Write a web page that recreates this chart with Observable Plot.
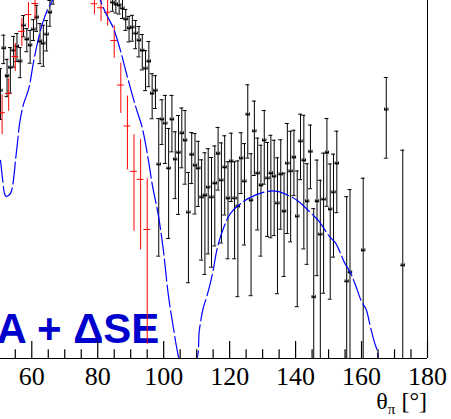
<!DOCTYPE html>
<html>
<head>
<meta charset="utf-8">
<script src="https://cdn.jsdelivr.net/npm/d3@7"></script>
<script src="https://cdn.jsdelivr.net/npm/@observablehq/plot@0.6"></script>
<style>
  html, body { margin: 0; padding: 0; background: #fff; }
  svg { display: block; }
</style>
</head>
<body>
<div id="chart"></div>
<script>
// Pion angular distribution (log scale), 1° bins, with model curve
const blackTheta = [50.5,51.5,52.5,53.5,54.5,55.5,56.5,57.5,58.5,59.5,60.5,61.5,62.5,63.5,64.5,65.5,66.5,
  84.5,85.5,86.5,87.5,88.5,89.5,90.5,91.5,92.5,93.5,94.5,95.5,96.5,97.5,98.5,99.5,100.5,101.5,102.5,103.5,
  104.5,105.5,106.5,107.5,108.5,109.5,110.5,111.5,112.5,113.5,114.5,115.5,116.5,117.5,118.5,119.5,120.5,
  121.5,122.5,123.5,124.5,125.5,126.5,127.5,128.5,129.5,130.5,131.5,132.5,133.5,134.5,135.5,136.5,137.5,
  138.5,139.5,140.5,141.5,142.5,143.5,144.5,145.5,146.5,147.5,148.5,149.5,150.5,151.5,152.5,
  155.5,156.5,160.5,167.5,172.5];
const blackValue = [1.65,2.57,1.92,2.10,2.51,2.62,2.24,3.26,2.82,2.65,3.13,3.55,2.76,2.70,2.97,3.74,4.71,
  4.15,4.07,4.03,3.90,3.48,3.17,3.20,3.00,2.79,2.51,2.08,2.24,1.60,1.65,0.762,1.22,1.17,0.731,1.22,0.803,
  0.862,1.056,0.98,0.461,0.844,0.754,0.731,0.540,0.551,0.599,0.540,0.625,0.853,0.645,0.739,0.534,0.787,
  0.534,0.491,0.812,0.638,1.285,0.523,1.079,0.694,0.612,0.98,0.659,0.694,0.672,0.507,0.687,0.466,0.770,
  0.709,0.820,0.442,0.970,0.795,0.518,0.871,0.190,0.518,0.366,0.528,0.862,0.476,0.569,0.770,
  0.224,0.246,0.310,1.354,0.265];
const blackError = [0.43,0.38,0.37,0.49,0.40,0.38,0.35,0.36,0.34,0.45,0.34,0.48,0.57,0.57,0.47,0.50,0.63,
  0.36,0.35,0.35,0.39,0.38,0.42,0.43,0.44,0.44,0.46,0.43,0.52,0.37,0.28,0.47,0.28,0.40,0.38,0.35,0.27,
  0.41,0.32,0.36,0.24,0.22,0.30,0.24,0.26,0.31,0.30,0.28,0.30,0.27,0.31,0.29,0.25,0.27,
  0.25,0.30,0.25,0.31,0.47,0.33,0.40,0.31,0.32,0.36,0.30,0.34,0.31,0.31,0.30,0.23,0.40,
  0.37,0.27,0.27,0.32,0.48,0.25,0.28,0.29,0.28,0.28,0.33,0.37,0.29,0.28,0.31,
  0.32,0.34,0.35,0.54,0.62];

// Second data set, 2° bins
const redTheta = [51,53,55,57,59,61,79,81,83,85,87,89,91,93,95];
const redValue = [1.31,1.60,2.36,3.07,3.66,4.11,4.10,3.93,3.75,2.79,1.75,1.14,0.709,0.652,0.386];
const redError = [0.27,0.27,0.34,0.45,0.49,0.65,0.45,0.53,0.50,0.47,0.45,0.42,0.33,0.34,0.27];

// Model: A + ΔSE
const curveTheta = [50.52,51.12,51.73,52.18,52.94,53.55,54.06,54.61,55.06,55.67,56.36,57.48,59.09,60.61,
  62.64,64.67,66.27,70,74,78,80.82,82.64,84.76,86.88,89.0,91.42,93.55,95.37,96.58,98.39,99.91,101.42,
  102.94,104.15,104.76,106,108,109.9,110.8,112.0,113.2,114.8,116.3,118.1,120.2,122.6,126.3,131.4,134.5,
  138.4,140.5,142.3,145.4,146.9,150.5,152.0,155.0,156.6,158.1,159.9,161.4,162.6,163.8,164.8,165.2,168,
  172,176,180];
const curveValue = [0.795,0.658,0.563,0.546,0.551,0.563,0.593,0.680,0.795,0.960,1.185,1.43,1.685,2.26,
  3.10,3.82,4.24,5.6,6.2,5.3,4.24,3.66,3.17,2.51,1.90,1.41,1.11,0.795,0.612,0.447,0.310,0.194,
  0.138,0.108,0.100,0.06,0.04,0.100,0.134,0.170,0.194,0.243,0.320,0.390,0.456,0.496,0.540,0.575,0.575,
  0.546,0.523,0.496,0.447,0.424,0.355,0.337,0.270,0.246,0.217,0.183,0.167,0.141,0.120,0.108,0.100,0.05,
  0.02,0.02,0.03];

const majorTicks = [60, 80, 100, 120, 140, 160, 180];
const minorTicks = [55, 65, 70, 75, 85, 90, 95, 105, 110, 115, 125, 130, 135, 145, 150, 155, 165, 170, 175];
const modelLabel = "A + \u0394SE";

const yMin = 0.1, yMax = 4.24;
const xMin = 50.515, xMax = 180;

const black = blackTheta.map((t, i) => ({t, v: blackValue[i], e: blackError[i]}));
const red = redTheta.map((t, i) => ({t, v: redValue[i], e: redError[i]}));
const model = curveTheta.map((t, i) => ({t, v: curveValue[i]}));

const low = d => Math.max(d.v - d.e, 1e-4);
const high = d => d.v + d.e;
const markerTick = 1.016; // half-height of the bin-width end marks, as a factor on the log axis
const serif = "Liberation Serif, Times New Roman, serif";

const svg = Plot.plot({
  width: 451,
  height: 419,
  marginLeft: 0,
  marginRight: 24,
  marginTop: 0,
  marginBottom: 61,
  x: {domain: [xMin, xMax], axis: null},
  y: {type: "log", domain: [yMin, yMax], axis: null},
  style: {background: "#fff", color: "#000"},
  marks: [
    Plot.text([modelLabel], {
      text: d => d, frameAnchor: "bottom-left", textAnchor: "start", lineAnchor: "bottom",
      dx: -4, dy: -16, fontSize: 42, fontWeight: "bold",
      fontFamily: "Liberation Sans, Arial, Helvetica, sans-serif", fill: "#0000cc"
    }),
    // black set: vertical error bars with caps
    Plot.ruleX(black, {x: "t", y1: low, y2: high, stroke: "#000", strokeWidth: 1, clip: true}),
    Plot.ruleY(black, {y: high, x1: d => d.t - 0.6, x2: d => d.t + 0.6, stroke: "#000", strokeWidth: 1, clip: true}),
    Plot.ruleY(black, {y: low, x1: d => d.t - 0.6, x2: d => d.t + 0.6, stroke: "#000", strokeWidth: 1, clip: true}),
    // bin width with end marks
    Plot.ruleY(black, {y: "v", x1: d => d.t - 0.5, x2: d => d.t + 0.5, stroke: "#000", strokeWidth: 1, clip: true}),
    Plot.ruleX(black, {x: d => d.t - 0.5, y1: d => d.v / markerTick, y2: d => d.v * markerTick, stroke: "#000", strokeWidth: 1, clip: true}),
    Plot.ruleX(black, {x: d => d.t + 0.5, y1: d => d.v / markerTick, y2: d => d.v * markerTick, stroke: "#000", strokeWidth: 1, clip: true}),
    Plot.dot(black, {x: "t", y: "v", r: 1.1, fill: "#000", stroke: null, clip: true}),
    // red set
    Plot.ruleX(red, {x: "t", y1: low, y2: high, stroke: "#ff0000", strokeWidth: 1, clip: true}),
    Plot.ruleY(red, {y: "v", x1: d => d.t - 1, x2: d => d.t + 1, stroke: "#ff0000", strokeWidth: 1, clip: true}),
    // model curve, held on the frame bottom where it drops below the axis
    Plot.line(model, {
      x: "t", y: d => Math.max(d.v, yMin), stroke: "#0000ff", strokeWidth: 1.2,
      strokeDasharray: "22,4", curve: "catmull-rom", clip: true
    }),
    // frame bottom and right
    Plot.ruleY([yMin], {stroke: "#000", strokeWidth: 1}),
    Plot.ruleX([xMax], {stroke: "#000", strokeWidth: 1}),
    // axis ticks standing on the frame bottom
    Plot.ruleX(majorTicks, {x: d => d, y1: yMin, y2: yMin * 1.195, stroke: "#000", strokeWidth: 1.2}),
    Plot.ruleX(minorTicks, {x: d => d, y1: yMin, y2: yMin * 1.095, stroke: "#000", strokeWidth: 1.2}),
    // tick labels
    Plot.axisX(majorTicks, {
      anchor: "bottom", tickSize: 0, tickPadding: 8, label: null,
      fontSize: 26, fontFamily: serif, fill: "#000"
    })
  ]
});

// axis title with subscript
const xScale = svg.scale("x");
const title = d3.select(svg).append("text")
  .attr("x", xScale.apply(xMax)).attr("y", 409)
  .attr("text-anchor", "end")
  .attr("font-family", serif)
  .attr("font-size", 24)
  .attr("fill", "#000");
title.append("tspan").text("\u03b8");
title.append("tspan").attr("font-size", 15).attr("dy", 5).text("\u03c0");
title.append("tspan").attr("dy", -5).text(" [\u00b0]");

document.getElementById("chart").appendChild(svg);
</script>
</body>
</html>
